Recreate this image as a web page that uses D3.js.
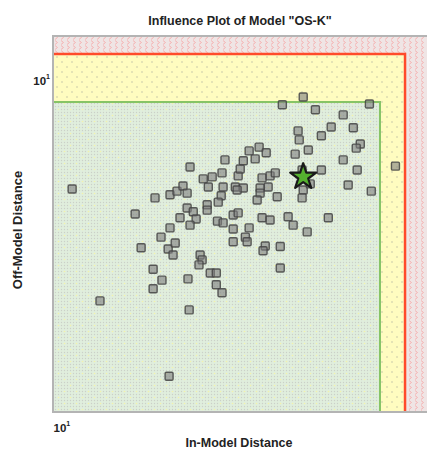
<!DOCTYPE html>
<html>
<head>
<meta charset="utf-8">
<script src="https://cdn.jsdelivr.net/npm/d3@7"></script>
<style>
  html, body { margin: 0; padding: 0; background: #ffffff; }
  svg { display: block; font-family: "Liberation Sans", Arial, sans-serif; }
</style>
</head>
<body>
<svg id="chart" width="427" height="450"></svg>
<script>
// ---- data ----
const title = 'Influence Plot of Model "OS-K"';
const xLabel = "In-Model Distance";
const yLabel = "Off-Model Distance";
const xTicks = [10];
const yTicks = [10];
const xDomain = [10, 25];
const yDomain = [4.25, 11.2];
// inner (green) and outer (red) limit boxes: [in-model, off-model]
const greenLimit = [22.28, 9.45];
const redLimit = [23.69, 10.69];
// highlighted model (star)
const starPoint = [18.46, 7.79];
// samples: in-model distance
const inModel = [
  10.48, 11.22, 12.23, 12.41, 12.78, 12.78, 12.84, 13.03, 13.06, 13.29,
  13.32, 13.32, 13.26, 13.42, 13.49, 13.55, 13.75, 13.89, 13.89, 14.10,
  13.65, 14.20, 13.99, 13.96, 13.92, 13.99, 14.34, 14.41, 14.30, 14.45,
  14.63, 14.59, 14.59, 14.70, 14.92, 14.92, 15.13, 14.77, 15.10, 14.99,
  14.96, 15.17, 15.13, 15.24, 15.17, 15.55, 15.74, 15.55, 15.55, 16.02,
  16.09, 16.17, 15.63, 15.94, 15.74, 15.82, 15.94, 16.17, 16.41, 16.57,
  16.86, 16.69, 17.02, 17.24, 16.94, 16.61, 16.61, 16.49, 17.32, 15.70,
  16.69, 17.02, 17.79, 18.01, 18.64, 19.63, 16.82, 16.73, 17.45, 17.45,
  17.54, 18.46, 19.02, 21.71, 20.36, 19.77, 20.87, 19.30, 18.23, 18.28,
  18.69, 18.10, 21.23, 21.02, 20.36, 19.30, 21.07, 23.14, 20.61, 21.81,
  18.46, 18.41, 18.78, 18.41
];
// samples: off-model distance
const offModel = [
  7.55, 5.66, 7.08, 6.49, 6.14, 5.84, 7.38, 6.67, 5.97, 4.66,
  7.44, 6.83, 6.47, 6.37, 6.57, 7.51, 7.61, 7.47, 7.19, 7.12,
  7.01, 6.99, 6.88, 5.53, 5.99, 7.99, 6.37, 6.29, 6.21, 7.75,
  7.59, 7.25, 7.15, 6.08, 6.08, 5.90, 5.78, 7.79, 7.42, 7.30,
  6.95, 6.92, 7.87, 8.14, 7.59, 7.06, 7.10, 6.81, 6.59, 6.67,
  6.59, 6.83, 7.59, 7.57, 7.81, 7.95, 8.12, 8.33, 8.16, 8.41,
  8.29, 7.77, 7.81, 7.87, 7.59, 7.57, 7.47, 7.34, 7.40, 7.53,
  7.01, 6.97, 7.03, 6.88, 6.76, 7.01, 6.52, 6.44, 6.51, 6.16,
  9.38, 9.57, 9.26, 9.40, 9.14, 8.86, 8.84, 8.66, 8.77, 8.57,
  8.35, 8.26, 8.48, 8.39, 8.14, 7.93, 7.93, 8.01, 7.63, 7.51,
  7.53, 7.38, 7.65, 7.93
];

// ---- layout ----
const plot = { left: 53, right: 427, top: 36, bottom: 412 };
const svg = d3.select("#chart");
const x = d3.scaleLog().domain(xDomain).range([plot.left, plot.right]);
const y = d3.scaleLog().domain(yDomain).range([plot.bottom, plot.top]);

const defs = svg.append("defs");
// pink chevron pattern
const pp = defs.append("pattern").attr("id", "pinkPat")
  .attr("patternUnits", "userSpaceOnUse").attr("width", 6).attr("height", 5);
pp.append("rect").attr("width", 6).attr("height", 5).attr("fill", "#efe5e5");
pp.append("path").attr("d", "M1,0.5 L3.5,2.5 L1,4.5").attr("fill", "none")
  .attr("stroke", "#f5acac").attr("stroke-width", 0.9);
// yellow dotted pattern
const yp = defs.append("pattern").attr("id", "yelPat")
  .attr("patternUnits", "userSpaceOnUse").attr("width", 10).attr("height", 10);
yp.append("rect").attr("width", 10).attr("height", 10).attr("fill", "#fffcc0");
yp.append("circle").attr("cx", 2).attr("cy", 2).attr("r", 0.7).attr("fill", "#b9b8a2");
yp.append("circle").attr("cx", 7).attr("cy", 7).attr("r", 0.7).attr("fill", "#b9b8a2");
// green dotted pattern
const gp = defs.append("pattern").attr("id", "grnPat")
  .attr("patternUnits", "userSpaceOnUse").attr("width", 12).attr("height", 12);
gp.append("rect").attr("width", 12).attr("height", 12).attr("fill", "#e0eedd");
for (let i = 0; i < 4; i++) {
  for (let j = 0; j < 4; j++) {
    const yellow = (i === 1 && j === 2) || (i === 3 && j === 0);
    gp.append("circle").attr("cx", i * 3 + 1.5).attr("cy", j * 3 + 1.5)
      .attr("r", yellow ? 0.8 : 0.65)
      .attr("fill", yellow ? "#f4f3a8" : "#cbd0c8");
  }
}
defs.append("clipPath").attr("id", "clipPlot").append("rect")
  .attr("x", plot.left).attr("y", plot.top)
  .attr("width", plot.right - plot.left).attr("height", plot.bottom - plot.top);

const g = svg.append("g").attr("clip-path", "url(#clipPlot)");
// outer (pink) background
g.append("rect").attr("x", plot.left).attr("y", plot.top)
  .attr("width", plot.right - plot.left).attr("height", plot.bottom - plot.top)
  .attr("fill", "url(#pinkPat)");
// yellow box up to red limit
g.append("rect").attr("x", x(xDomain[0])).attr("y", y(redLimit[1]))
  .attr("width", x(redLimit[0]) - x(xDomain[0]))
  .attr("height", y(yDomain[0]) - y(redLimit[1]))
  .attr("fill", "url(#yelPat)");
// green box up to green limit
g.append("rect").attr("x", x(xDomain[0])).attr("y", y(greenLimit[1]))
  .attr("width", x(greenLimit[0]) - x(xDomain[0]))
  .attr("height", y(yDomain[0]) - y(greenLimit[1]))
  .attr("fill", "url(#grnPat)");
// limit lines
const limitLine = (lim, color, w) => {
  g.append("path")
    .attr("d", `M${x(xDomain[0])},${y(lim[1])} H${x(lim[0])} V${y(yDomain[0])}`)
    .attr("fill", "none").attr("stroke", color).attr("stroke-width", w);
};
limitLine(greenLimit, "#86c466", 2);
limitLine(redLimit, "#ff4b2b", 2.5);

// samples
const pts = inModel.map((v, i) => [v, offModel[i]]);
g.append("g").selectAll("rect").data(pts).join("rect")
  .attr("x", d => x(d[0]) - 4).attr("y", d => y(d[1]) - 4)
  .attr("width", 8).attr("height", 8).attr("rx", 1.2)
  .attr("fill", "#7e7e7e").attr("fill-opacity", 0.6)
  .attr("stroke", "#444444").attr("stroke-opacity", 0.85).attr("stroke-width", 1.4);

// star
g.append("path")
  .attr("d", d3.symbol().type(d3.symbolStar).size(210)())
  .attr("transform", `translate(${x(starPoint[0])},${y(starPoint[1])})`)
  .attr("fill", "#55b12f").attr("stroke", "#1a1a1a").attr("stroke-width", 2.2)
  .attr("stroke-linejoin", "round");

// frame
svg.append("path")
  .attr("d", `M${plot.right},${plot.top} H${plot.left} V${plot.bottom} H${plot.right}`)
  .attr("fill", "none").attr("stroke", "#b4b4b4").attr("stroke-width", 2);

// axes (ticks only as labels)
const xAxis = svg.append("g").attr("transform", `translate(0,${plot.bottom})`)
  .call(d3.axisBottom(x).tickValues(xTicks).tickSize(0).tickFormat(() => ""));
xAxis.select(".domain").remove();
xAxis.selectAll(".tick").each(function(d) {
  const t = d3.select(this).select("text").attr("text-anchor", "start")
    .attr("y", 20).attr("dy", null)
    .attr("font-size", 11.5).attr("font-weight", "bold").attr("fill", "#222");
  t.append("tspan").text("10");
  t.append("tspan").attr("dy", -6).attr("font-size", 7).text(Math.round(Math.log10(d)));
});
const yAxis = svg.append("g").attr("transform", `translate(${plot.left},0)`)
  .call(d3.axisLeft(y).tickValues(yTicks).tickSize(0).tickFormat(() => ""));
yAxis.select(".domain").remove();
yAxis.selectAll(".tick").each(function(d) {
  const t = d3.select(this).select("text").attr("text-anchor", "end")
    .attr("x", -3).attr("dy", "0.35em")
    .attr("font-size", 11.5).attr("font-weight", "bold").attr("fill", "#222");
  t.append("tspan").text("10");
  t.append("tspan").attr("dy", -6).attr("font-size", 7).text(Math.round(Math.log10(d)));
});

// titles
svg.append("text").attr("x", 240).attr("y", 25).attr("text-anchor", "middle")
  .attr("font-size", 12.5).attr("font-weight", "bold").attr("fill", "#222").text(title);
svg.append("text").attr("x", 239).attr("y", 447).attr("text-anchor", "middle")
  .attr("font-size", 12.5).attr("font-weight", "bold").attr("fill", "#222").text(xLabel);
svg.append("text").attr("transform", `translate(22,230) rotate(-90)`)
  .attr("text-anchor", "middle")
  .attr("font-size", 13).attr("font-weight", "bold").attr("fill", "#222").text(yLabel);
</script>
</body>
</html>
